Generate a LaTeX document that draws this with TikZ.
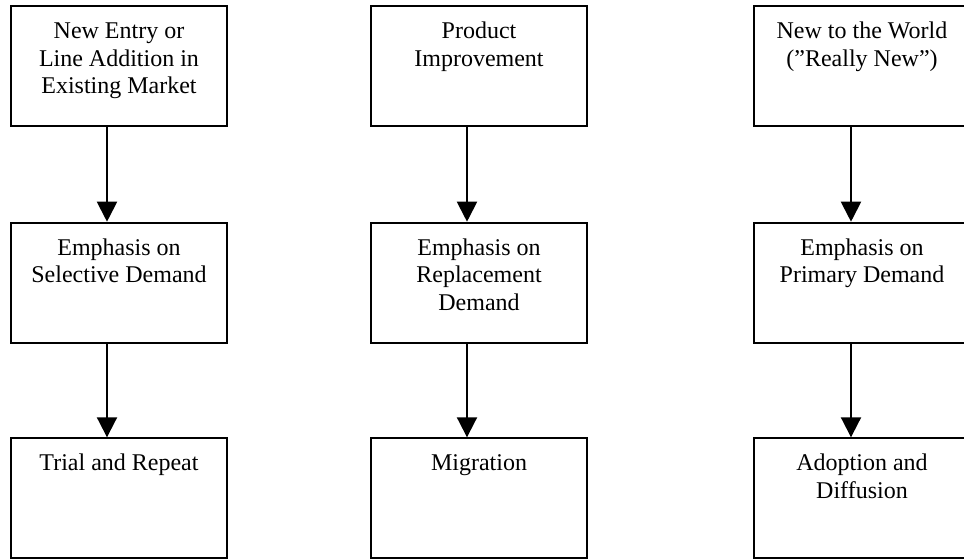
\documentclass[tikz,border=0pt]{standalone}
\usepackage{fontspec}
\setmainfont{Liberation Serif}
\usetikzlibrary{arrows.meta}
\begin{document}
\begin{tikzpicture}[x=0.5pt,y=-0.5pt,
  box/.style={draw=black,line width=1pt,minimum width=108pt,minimum height=60pt,inner sep=0pt,fill=white},
  lbl/.style={anchor=north,inner sep=0pt,align=center,font=\fontsize{12}{13.8}\selectfont},
  arr/.style={draw=black,line width=1pt,-{Triangle[width=10pt,length=10pt]}}]
\useasboundingbox (0,0) rectangle (964,558);
\clip (0,0) rectangle (964,558);
% boxes
\node[box] (a1) at (119,66) {};
\node[box] (a2) at (119,282.7) {};
\node[box] (a3) at (119,498.3) {};
\node[box] (b1) at (479,66) {};
\node[box] (b2) at (479,282.7) {};
\node[box] (b3) at (479,498.3) {};
\node[box] (c1) at (862,66) {};
\node[box] (c2) at (862,282.7) {};
\node[box] (c3) at (862,498.3) {};
% labels
\node[lbl] (ta1) at ([yshift=-6.85pt]a1.north) {\strut New Entry or\\Line Addition in\\Existing Market};
\node[lbl] (ta2) at ([yshift=-6.85pt]a2.north) {\strut Emphasis on\\Selective Demand};
\node[lbl] (ta3) at ([yshift=-6.85pt]a3.north) {\strut Trial and Repeat};
\node[lbl] (tb1) at ([yshift=-6.85pt]b1.north) {\strut Product\\Improvement};
\node[lbl] (tb2) at ([yshift=-6.85pt]b2.north) {\strut Emphasis on\\Replacement\\Demand};
\node[lbl] (tb3) at ([yshift=-6.85pt]b3.north) {\strut Migration};
\node[lbl] (tc1) at ([yshift=-6.85pt]c1.north) {\strut New to the World\\(”Really New”)};
\node[lbl] (tc2) at ([yshift=-6.85pt]c2.north) {\strut Emphasis on\\Primary Demand};
\node[lbl] (tc3) at ([yshift=-6.85pt]c3.north) {\strut Adoption and\\Diffusion};
% arrows
\draw[arr] ([xshift=-6pt]a1.south) -- ([xshift=-6pt]a2.north);
\draw[arr] ([xshift=-6pt]a2.south) -- ([xshift=-6pt]a3.north);
\draw[arr] ([xshift=-6pt]b1.south) -- ([xshift=-6pt]b2.north);
\draw[arr] ([xshift=-6pt]b2.south) -- ([xshift=-6pt]b3.north);
\draw[arr] ([xshift=-5.5pt]c1.south) -- ([xshift=-5.5pt]c2.north);
\draw[arr] ([xshift=-5.5pt]c2.south) -- ([xshift=-5.5pt]c3.north);
\end{tikzpicture}
\end{document}
